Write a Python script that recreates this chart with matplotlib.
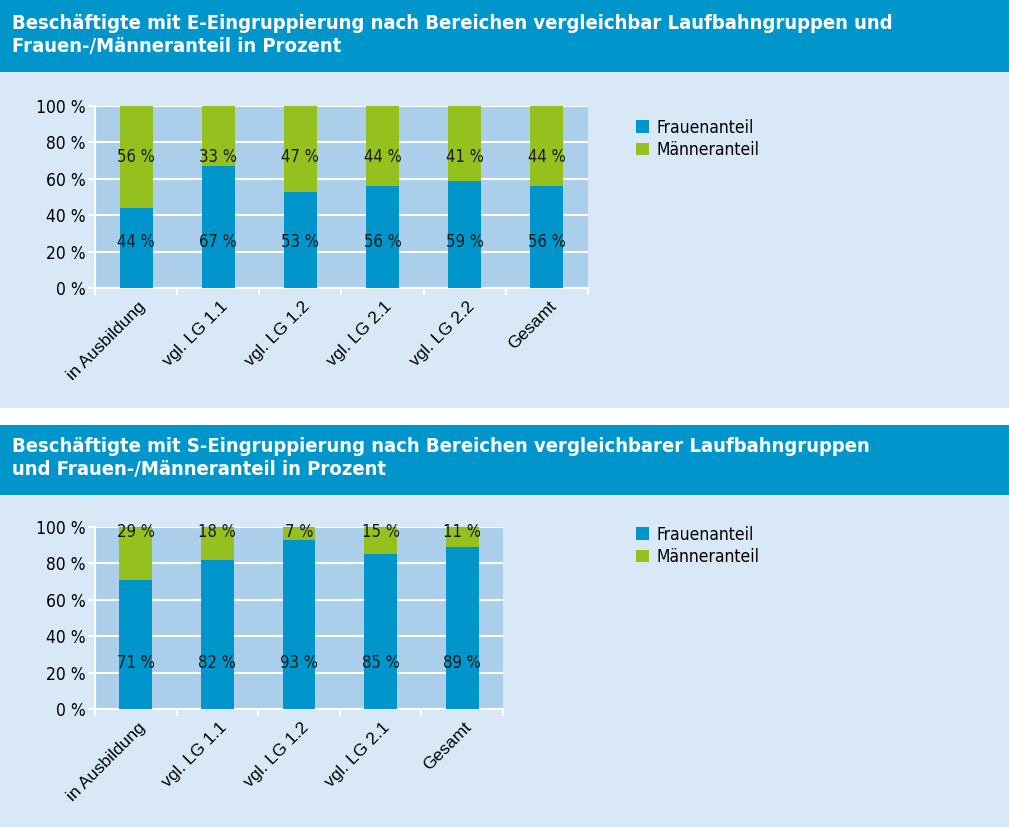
import matplotlib
matplotlib.use("Agg")
import matplotlib.pyplot as plt
from matplotlib.patches import Rectangle, Patch
from matplotlib.ticker import FuncFormatter
from matplotlib.transforms import ScaledTranslation

# ---------------- data ----------------
title_e = "Beschäftigte mit E-Eingruppierung nach Bereichen vergleichbar Laufbahngruppen und\nFrauen-/Männeranteil in Prozent"
title_s = "Beschäftigte mit S-Eingruppierung nach Bereichen vergleichbarer Laufbahngruppen\nund Frauen-/Männeranteil in Prozent"
series_names = ["Frauenanteil", "Männeranteil"]

cats_e = ["in Ausbildung", "vgl. LG 1.1", "vgl. LG 1.2", "vgl. LG 2.1", "vgl. LG 2.2", "Gesamt"]
frauen_e = [44, 67, 53, 56, 59, 56]
maenner_e = [56, 33, 47, 44, 41, 44]

cats_s = ["in Ausbildung", "vgl. LG 1.1", "vgl. LG 1.2", "vgl. LG 2.1", "Gesamt"]
frauen_s = [71, 82, 93, 85, 89]
maenner_s = [29, 18, 7, 15, 11]

yticks = [0, 20, 40, 60, 80, 100]

# ---------------- style ----------------
HEADER = "#0096cc"
PANEL = "#d8e8f6"
PLOTBG = "#abcfeb"
BLUE = "#0095cb"
GREEN = "#95c11f"
COND = dict(family=["DejaVu Sans"], stretch="condensed")

plt.rcParams["font.family"] = ["DejaVu Sans"]

W, H = 1009, 827
fig = plt.figure(figsize=(W / 100, H / 100), dpi=100, facecolor="white")


def fy(px):
    return 1 - px / H


def rect(x0, y0, x1, y1, color):
    fig.add_artist(Rectangle((x0 / W, fy(y1)), (x1 - x0) / W, (y1 - y0) / H,
                             transform=fig.transFigure, facecolor=color,
                             edgecolor="none", zorder=0))


# backgrounds
rect(0, 0, W, 72, HEADER)
rect(0, 72, W, 408, PANEL)
rect(0, 425, W, 495, HEADER)
rect(0, 495, W, H, PANEL)

fig.text(12 / W, fy(14), title_e, color="white", fontsize=14.5, fontweight="bold",
         va="top", ha="left", linespacing=1.25, **COND)
fig.text(12 / W, fy(437), title_s, color="white", fontsize=14.5, fontweight="bold",
         va="top", ha="left", linespacing=1.25, **COND)


def draw(ax_rect, cats, frauen, maenner, lab_lo, lab_hi, legend_y):
    ax = fig.add_axes(ax_rect)
    ax.set_facecolor(PLOTBG)
    x = list(range(len(cats)))
    ax.bar(x, frauen, width=0.4, color=BLUE, zorder=3, label=series_names[0])
    ax.bar(x, maenner, bottom=frauen, width=0.4, color=GREEN, zorder=3,
           label=series_names[1])
    for xi, f, m in zip(x, frauen, maenner):
        ax.text(xi, lab_lo, f"{f} %", ha="center", va="center", fontsize=12,
                color="#1a1a1a", zorder=4, **COND)
        ax.text(xi, lab_hi, f"{m} %", ha="center", va="center", fontsize=12,
                color="#1a1a1a", zorder=4, **COND)
    ax.set_xlim(-0.5, len(cats) - 0.5)
    ax.set_ylim(0, 100)
    ax.set_yticks(yticks)
    ax.yaxis.set_major_formatter(FuncFormatter(lambda v, p: f"{int(v)} %"))
    ax.grid(axis="y", color="white", linewidth=1.5, zorder=1)
    ax.set_axisbelow(True)
    # category boundary ticks; category names drawn as rotated texts
    ax.set_xticks([i - 0.5 for i in range(len(cats) + 1)])
    ax.set_xticklabels([])
    off = ax.get_xaxis_transform() + ScaledTranslation(0.07, -0.16, fig.dpi_scale_trans)
    for xi, c in zip(x, cats):
        ax.text(xi, 0, c, transform=off, rotation=45, ha="right", va="center",
                rotation_mode="anchor", fontsize=12.5,
                family=["Liberation Sans", "DejaVu Sans"], clip_on=False)
    ax.tick_params(axis="x", length=5, color="white", width=1.5)
    ax.tick_params(axis="y", length=5, color="white", width=1.5, pad=2)
    for t in ax.get_yticklabels():
        t.set_fontsize(12.5)
        t.set_fontstretch("condensed")
    for s in ["top", "right"]:
        ax.spines[s].set_visible(False)
    for s in ["left", "bottom"]:
        ax.spines[s].set_color("white")
        ax.spines[s].set_linewidth(1.5)
    handles = [Patch(facecolor=BLUE), Patch(facecolor=GREEN)]
    fig.legend(handles, series_names, loc="upper left",
               bbox_to_anchor=(620 / W, fy(legend_y)), frameon=False,
               handlelength=0.75, handleheight=0.75, handletextpad=0.45,
               labelspacing=0.25, prop=dict(size=12.5, **COND))
    return ax


draw([95 / W, fy(288), 493 / W, 182 / H], cats_e, frauen_e, maenner_e, 25.5, 72, 103)
draw([95 / W, fy(709), 408 / W, 182 / H], cats_s, frauen_s, maenner_s, 25.5, 97, 510)

fig.savefig("out.png", dpi=100, facecolor="white")
